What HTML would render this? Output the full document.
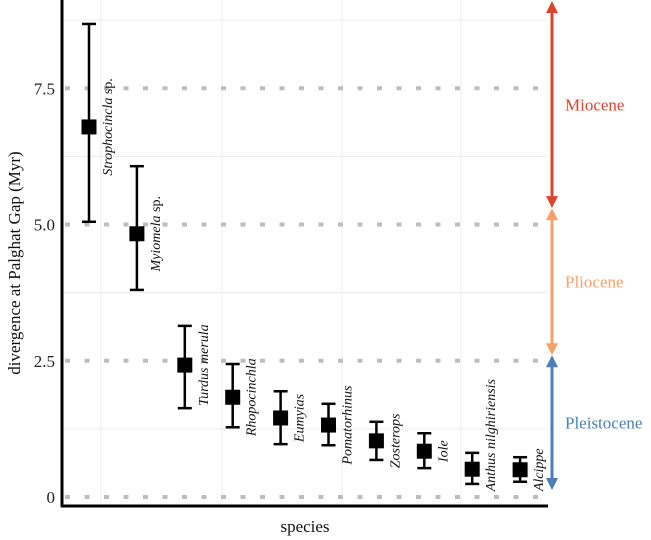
<!DOCTYPE html>
<html><head><meta charset="utf-8"><style>
html,body{margin:0;padding:0;background:#fff;}
svg, svg text{font-family:"Liberation Serif","DejaVu Serif",serif;}
svg{display:block;}
</style></head><body>
<svg id="chart" width="651" height="540" viewBox="0 0 651 540"></svg>
<script>
const species = ["Strophocincla sp.","Myiomela sp.","Turdus merula","Rhopocinchla","Eumyias","Pomatorhinus","Zosterops","Iole","Anthus nilghiriensis","Alcippe"];
const means = [6.79,4.83,2.42,1.83,1.45,1.32,1.03,0.84,0.51,0.50];
const upper = [8.68,6.07,3.14,2.44,1.94,1.71,1.38,1.17,0.81,0.73];
const lower = [5.05,3.80,1.63,1.28,0.97,0.95,0.68,0.53,0.24,0.28];
const yTicks = [0,2.5,5.0,7.5];
const yTickLabels = ["0","2.5","5.0","7.5"];
const minorTicks = [1.25,3.75,6.25,8.75];
const epochs = ["Miocene","Pliocene","Pleistocene"];
const epochStart = [5.3,2.6,0];
const epochEnd = [9.1,5.3,2.6];

const NS="http://www.w3.org/2000/svg";
const svg=document.getElementById('chart');
const FF='"Liberation Serif","DejaVu Serif",serif';
const y=v=>497-v*54.5;
const x=i=>89+i*47.9;
function mk(t,a,p){const e=document.createElementNS(NS,t);for(const k in a)e.setAttribute(k,a[k]);if(t==='text')e.setAttribute('font-family',FF);(p||svg).appendChild(e);return e;}

minorTicks.forEach(v=>{const l=mk('line',{x1:64,x2:548,y1:y(v),y2:y(v),stroke:'#ececec','stroke-width':1});

});
[101,222,342,461].forEach(px=>{const l=mk('line',{x1:px,x2:px,y1:0,y2:506,stroke:'#ececec','stroke-width':1});

});
yTicks.forEach((v,i)=>{
const l=mk('line',{x1:64,x2:548,y1:y(v),y2:y(v),stroke:'#bdbdbd','stroke-width':4,'stroke-dasharray':'5 14.5','stroke-dashoffset':-1});


const t=mk('text',{x:55,y:y(v)+6,'text-anchor':'end','font-size':17,fill:'#222'});t.textContent=yTickLabels[i];


});
const ya=mk('line',{x1:62,x2:62,y1:0,y2:507,stroke:'#000','stroke-width':3});


const xa=mk('line',{x1:61,x2:548,y1:506,y2:506,stroke:'#000','stroke-width':3});


const yt=mk('text',{transform:'translate(20,263) rotate(-90)','text-anchor':'middle','font-size':17,fill:'#111'});yt.textContent='divergence at Palghat Gap (Myr)';


const xt=mk('text',{x:305,y:532,'text-anchor':'middle','font-size':17,fill:'#111'});xt.textContent='species';



species.forEach((s,i)=>{
const g=mk('g',{});


const cx=x(i);
mk('line',{x1:cx,x2:cx,y1:y(upper[i]),y2:y(lower[i]),stroke:'#000','stroke-width':2.5},g);
mk('line',{x1:cx-7,x2:cx+7,y1:y(upper[i]),y2:y(upper[i]),stroke:'#000','stroke-width':2.5},g);
mk('line',{x1:cx-7,x2:cx+7,y1:y(lower[i]),y2:y(lower[i]),stroke:'#000','stroke-width':2.5},g);
mk('rect',{x:cx-7.5,y:y(means[i])-7.5,width:15,height:15,fill:'#000'},g);
const ly=s.startsWith('Anthus')?y(means[i])-34:y(means[i]);
const t=mk('text',{transform:`translate(${cx+23},${ly}) rotate(-90)`,'text-anchor':'middle','font-size':14,'font-style':'italic',fill:'#111'},g);
if(s.endsWith(' sp.')){const a=document.createElementNS(NS,'tspan');a.textContent=s.slice(0,-4);t.appendChild(a);
const b=document.createElementNS(NS,'tspan');b.setAttribute('font-style','normal');b.textContent=' sp.';t.appendChild(b);}
else t.textContent=s;


});

const cols=['#d9472b','#f7a06a','#4a7fba'];
epochs.forEach((e,i)=>{
const g=mk('g',{});


const top=Math.max(y(epochEnd[i]),1), bot=Math.min(y(epochStart[i]),490);
const ax=552;
mk('line',{x1:ax,x2:ax,y1:top+8,y2:bot-8,stroke:cols[i],'stroke-width':3},g);
mk('polygon',{points:`${ax-6},${top+12} ${ax+6},${top+12} ${ax},${top}`,fill:cols[i]},g);
mk('polygon',{points:`${ax-6},${bot-12} ${ax+6},${bot-12} ${ax},${bot}`,fill:cols[i]},g);
const t=mk('text',{x:565,y:(top+bot)/2+6,'font-size':17,fill:cols[i]},g);t.textContent=e;


});
</script>
</body></html>
